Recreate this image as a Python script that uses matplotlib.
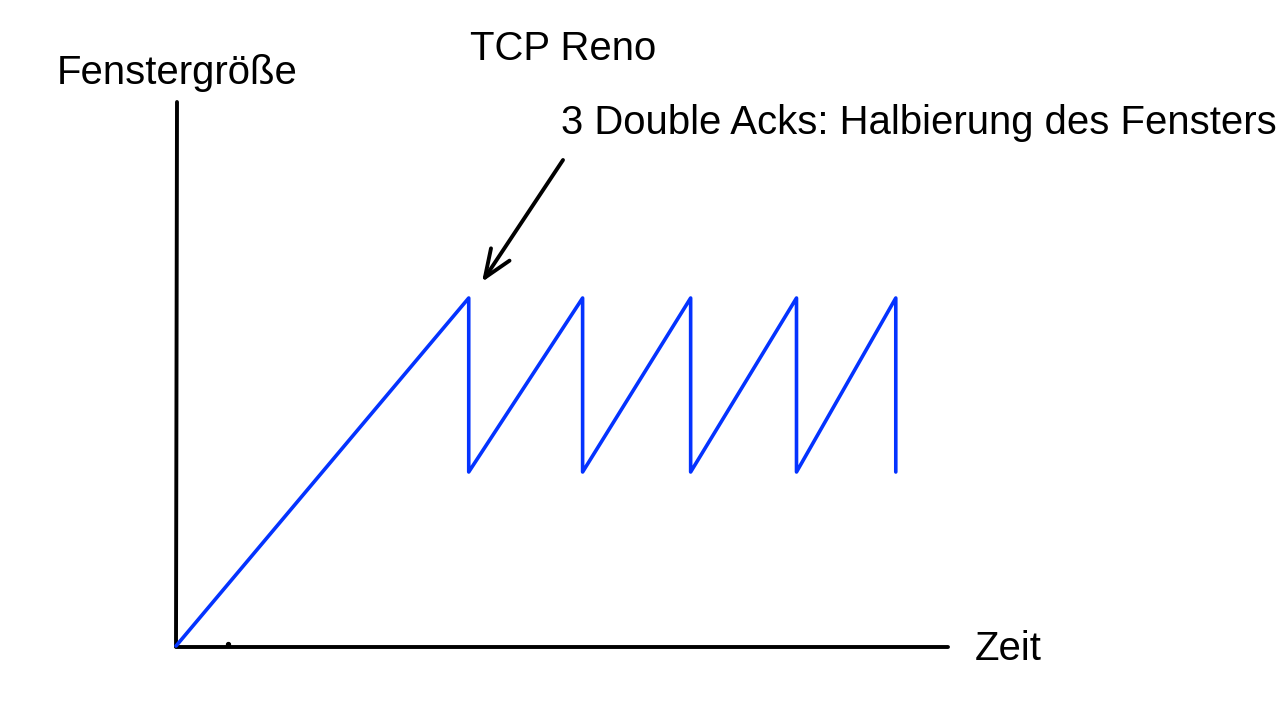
import matplotlib
matplotlib.use("Agg")
import matplotlib.pyplot as plt

plt.rcParams['font.family'] = ['Liberation Sans', 'DejaVu Sans']

# data: time vs window size (TCP Reno sawtooth)
time = [0, 20.05, 20.05, 27.85, 27.85, 35.25, 35.25, 42.5, 42.5, 49.3, 49.3]
window = [0, 20, 10, 20, 10, 20, 10, 20, 10, 20, 10]

title = "TCP Reno"
annotation = "3 Double Acks: Halbierung des Fensters"
xlabel = "Zeit"
ylabel = "Fenstergröße"

W, H = 1280, 720
fig = plt.figure(figsize=(12.8, 7.2), dpi=100)
ax = fig.add_axes([0, 0, 1, 1])
ax.set_axis_off()

# pixel mapping: origin at (176, 646); 14.6 px per time unit, 17.4 px per window unit
ox, oy, sx, sy = 176, 646, 14.6, 17.4
ax.set_xlim(-ox / sx, (W - ox) / sx)
ax.set_ylim(-(H - oy) / sy, oy / sy)

def d(px, py):
    return ((px - ox) / sx, (oy - py) / sy)

# axes (hand-drawn)
x0, y0 = d(176, 646.5)
x1, y1 = d(948, 646.5)
ax.plot([x0, x1], [y0, y1], color='black', lw=2.8, solid_capstyle='round', zorder=2)
x2, y2 = d(177, 102)
ax.plot([x0, x2], [y0, y2], color='black', lw=2.8, solid_capstyle='round', zorder=2)
tx, ty = d(228, 644)
ax.plot([tx], [ty], marker='o', ms=2.8, color='black', zorder=2)

# sawtooth
ax.plot(time, window, color='#0433ff', lw=2.6, solid_joinstyle='round', solid_capstyle='round', zorder=3)

# arrow
ax.annotate('', xy=d(482, 282), xytext=d(563, 160),
            arrowprops=dict(arrowstyle='->,head_length=2.0,head_width=0.8', color='black', lw=2.8,
                            shrinkA=0, shrinkB=0, capstyle='round', joinstyle='round'))

def ftext(px, py, s):
    fig.text(px / W, 1 - py / H, s, fontsize=28.9, ha='left', va='baseline', color='black')

ftext(470, 60, title)
ftext(561, 134, annotation)
ftext(57, 84, ylabel)
ftext(975, 660, xlabel)

fig.savefig('out.png', dpi=100)
